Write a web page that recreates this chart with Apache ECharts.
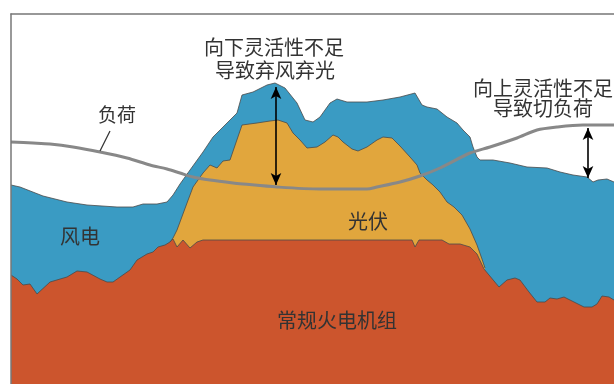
<!DOCTYPE html>
<html>
<head>
<meta charset="utf-8">
<script src="https://cdn.jsdelivr.net/npm/echarts@6/dist/echarts.min.js"></script>
<style>html,body{margin:0;padding:0;background:#fff;}#c{width:614px;height:384px;}</style>
</head>
<body>
<div id="c"></div>
<script>
// x: time (arbitrary units), y: power (arbitrary units)
const windTop = [[0,199],[9,197],[32,188],[56,182],[76,179],[106,177],[122,177],[132,180],[146,180],[156,182],[162,189],[169,200],[179,214],[192,232],[202,247],[216,261],[226,271],[231,289],[242,292],[256,299],[264,301],[274,296],[286,281],[294,264],[302,262],[309,267],[319,281],[326,285],[336,282],[356,282],[372,284],[389,287],[404,291],[411,279],[416,277],[426,275],[436,267],[446,261],[452,254],[459,247],[462,237],[466,227],[469,224],[482,224],[499,221],[516,217],[536,216],[549,212],[562,209],[576,207],[582,202],[587,204],[596,205],[603,202]];
const solarTop = [[159,142],[162,146],[166,154],[176,181],[182,197],[192,211],[199,219],[206,216],[212,223],[219,224],[231,259],[246,261],[259,263],[267,264],[276,261],[282,251],[289,244],[296,236],[306,237],[314,242],[322,249],[327,247],[332,242],[341,235],[347,233],[356,237],[366,244],[372,247],[381,246],[389,238],[399,227],[406,219],[409,211],[416,204],[422,199],[429,192],[436,182],[443,177],[451,169],[459,155],[466,139],[471,125],[474,116]];
const thermal = [[0,109],[6,105],[12,99],[19,100],[26,90],[39,102],[56,107],[66,113],[76,112],[89,105],[96,102],[102,102],[109,107],[119,114],[126,124],[136,130],[142,132],[147,137],[154,139],[159,142],[162,145],[166,137],[172,144],[179,136],[186,142],[192,144],[401,144],[404,137],[408,144],[431,144],[438,140],[449,140],[459,137],[466,130],[473,115],[488,97],[496,104],[504,106],[509,104],[518,92],[526,82],[534,82],[539,86],[546,85],[553,87],[563,82],[573,77],[581,77],[586,80],[591,88],[598,87],[603,84]];
const load = [[0,242],[22,241],[39,240],[62,237],[89,232],[116,226],[139,219],[156,215],[169,211],[182,207],[199,204],[222,201],[232,200],[266,197],[309,195],[356,195],[366,197],[389,202],[409,208],[429,216],[459,231],[479,237],[506,246],[526,254],[546,257],[572,259],[603,259]];
const curtailArrow = [[265,297],[265,199]];
const shedArrow = [[577,256],[577,206]];

const FONT = '"Noto Sans CJK SC", sans-serif';
const chart = echarts.init(document.getElementById('c'));
const area = (name, data, color, z) => ({
  name, type: 'line', data, symbol: 'none', z,
  lineStyle: {color: '#4a4a4a', width: 0.8},
  areaStyle: {color: color, opacity: 1},
  silent: true
});
chart.setOption({
  animation: false,
  grid: {left: 11, top: 14, right: 0, bottom: 0},
  xAxis: {type: 'value', min: 0, max: 603, position: 'top', z: 10,
    axisLine: {show: true, onZero: false, lineStyle: {color: '#777', width: 1.5}},
    axisTick: {show: false}, axisLabel: {show: false}, splitLine: {show: false}},
  yAxis: {type: 'value', min: 0, max: 370, z: 10,
    axisLine: {show: true, onZero: false, lineStyle: {color: '#777', width: 1.5}},
    axisTick: {show: false}, axisLabel: {show: false}, splitLine: {show: false}},
  series: [
    area('风电', windTop, '#3a9bc3', 2),
    area('光伏', solarTop, '#e1a63d', 3),
    area('常规火电机组', thermal, '#cc552d', 4),
    {name: '负荷', type: 'line', data: load, symbol: 'none', smooth: 0.3, z: 6, silent: true,
      lineStyle: {color: '#888', width: 3},
      markLine: {silent: true, symbol: ['arrow','arrow'], symbolSize: [8, 12],
        label: {show: false},
        lineStyle: {color: '#000', width: 1.6, type: 'solid'},
        data: [[{coord: curtailArrow[0]}, {coord: curtailArrow[1]}],
               [{coord: shedArrow[0]}, {coord: shedArrow[1]}]]}}
  ],
  graphic: [
    {type: 'line', shape: {x1: 110, y1: 131, x2: 100, y2: 151}, style: {stroke: '#333', lineWidth: 1.2}, z: 20},
    {type: 'text', x: 117, y: 115, z: 20, style: {text: '负荷', font: '19px ' + FONT, fill: '#333', align: 'center', verticalAlign: 'middle'}},
    {type: 'text', x: 274, y: 47, z: 20, style: {text: '向下灵活性不足', font: '20px ' + FONT, fill: '#333', align: 'center', verticalAlign: 'middle'}},
    {type: 'text', x: 275, y: 70, z: 20, style: {text: '导致弃风弃光', font: '20px ' + FONT, fill: '#333', align: 'center', verticalAlign: 'middle'}},
    {type: 'text', x: 543, y: 88, z: 20, style: {text: '向上灵活性不足', font: '20px ' + FONT, fill: '#333', align: 'center', verticalAlign: 'middle'}},
    {type: 'text', x: 543, y: 108, z: 20, style: {text: '导致切负荷', font: '20px ' + FONT, fill: '#333', align: 'center', verticalAlign: 'middle'}},
    {type: 'text', x: 80, y: 236, z: 20, style: {text: '风电', font: '20px ' + FONT, fill: '#333', align: 'center', verticalAlign: 'middle'}},
    {type: 'text', x: 368, y: 221, z: 20, style: {text: '光伏', font: '20px ' + FONT, fill: '#333', align: 'center', verticalAlign: 'middle'}},
    {type: 'text', x: 337, y: 320, z: 20, style: {text: '常规火电机组', font: '20px ' + FONT, fill: '#333', align: 'center', verticalAlign: 'middle'}}
  ]
});
</script>
</body>
</html>
